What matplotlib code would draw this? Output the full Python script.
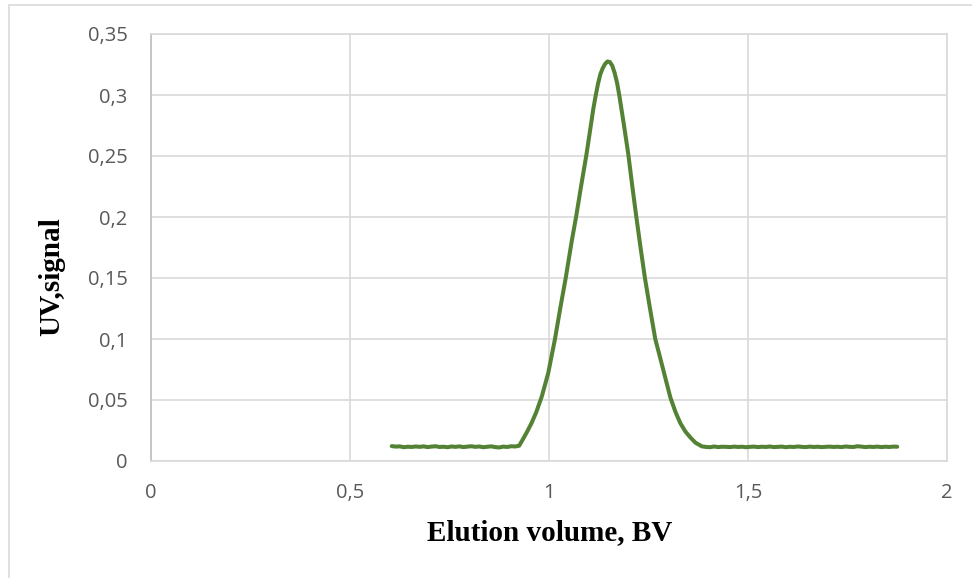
import matplotlib
matplotlib.use("Agg")
import matplotlib.pyplot as plt
from matplotlib.patches import Rectangle
from matplotlib.ticker import FuncFormatter

# ---- data ----
base_left_x = [0.605, 0.615, 0.625, 0.635, 0.645, 0.655, 0.665, 0.675, 0.685, 0.695,
               0.705, 0.715, 0.725, 0.735, 0.745, 0.755, 0.765, 0.775, 0.785, 0.795,
               0.805, 0.815, 0.825, 0.835, 0.845, 0.855, 0.865, 0.875, 0.885, 0.895,
               0.905, 0.915, 0.925]
base_left_y = [0.0122, 0.0118, 0.0120, 0.0113, 0.0117, 0.0115, 0.0119, 0.0116, 0.0120, 0.0114,
               0.0118, 0.0121, 0.0115, 0.0117, 0.0113, 0.0119, 0.0116, 0.0120, 0.0114, 0.0118,
               0.0121, 0.0116, 0.0119, 0.0113, 0.0117, 0.0120, 0.0114, 0.0111, 0.0118, 0.0115,
               0.0121, 0.0119, 0.0125]

peak_x = [0.933, 0.945, 0.956, 0.968, 0.982, 0.998, 1.015, 1.029, 1.042, 1.057,
          1.068, 1.081, 1.094, 1.106, 1.111, 1.117, 1.123, 1.129, 1.135, 1.141,
          1.147, 1.153, 1.159, 1.165, 1.171, 1.177, 1.188, 1.199, 1.209, 1.219,
          1.230, 1.241, 1.253, 1.267, 1.279, 1.290, 1.305, 1.318, 1.330, 1.343,
          1.356, 1.368, 1.384]
peak_y = [0.017, 0.024, 0.031, 0.040, 0.053, 0.072, 0.100, 0.1265, 0.150, 0.180,
          0.200, 0.226, 0.251, 0.277, 0.288, 0.299, 0.309, 0.317, 0.322, 0.3255,
          0.3275, 0.327, 0.324, 0.318, 0.310, 0.299, 0.276, 0.252, 0.226, 0.201,
          0.175, 0.150, 0.1265, 0.100, 0.085, 0.071, 0.052, 0.040, 0.031, 0.024,
          0.019, 0.015, 0.012]

base_right_x = [1.395, 1.405, 1.415, 1.425, 1.435, 1.445, 1.455, 1.465, 1.475, 1.485,
                1.495, 1.505, 1.515, 1.525, 1.535, 1.545, 1.555, 1.565, 1.575, 1.585,
                1.595, 1.605, 1.615, 1.625, 1.635, 1.645, 1.655, 1.665, 1.675, 1.685,
                1.695, 1.705, 1.715, 1.725, 1.735, 1.745, 1.755, 1.765, 1.775, 1.785,
                1.795, 1.805, 1.815, 1.825, 1.835, 1.845, 1.855, 1.865, 1.875]
base_right_y = [0.0115, 0.0113, 0.0119, 0.0114, 0.0117, 0.0116, 0.0114, 0.0118, 0.0115, 0.0117,
                0.0113, 0.0116, 0.0118, 0.0114, 0.0117, 0.0115, 0.0119, 0.0114, 0.0116, 0.0118,
                0.0113, 0.0117, 0.0115, 0.0119, 0.0116, 0.0114, 0.0118, 0.0115, 0.0117, 0.0114,
                0.0116, 0.0118, 0.0115, 0.0117, 0.0114, 0.0119, 0.0116, 0.0115, 0.0121, 0.0118,
                0.0114, 0.0117, 0.0115, 0.0118, 0.0114, 0.0117, 0.0115, 0.0118, 0.0117]

x_vals = base_left_x + peak_x + base_right_x
y_vals = base_left_y + peak_y + base_right_y

x_ticks = [0, 0.5, 1, 1.5, 2]
y_ticks = [0, 0.05, 0.1, 0.15, 0.2, 0.25, 0.3, 0.35]

x_label = "Elution volume, BV"
y_label = "UV,signal"

# ---- figure ----
W, H = 972, 578
fig = plt.figure(figsize=(W / 100, H / 100), dpi=100)
fig.patches.append(Rectangle((8.5 / W, -0.1), 2.0, (H - 5.5) / H + 0.1,
                             transform=fig.transFigure, fill=False,
                             edgecolor="#d9d9d9", linewidth=1.2))

ax = fig.add_axes([151 / W, (H - 461) / H, (947 - 151) / W, (461 - 34) / H])

grid_c = "#d9d9d9"
ax.plot(x_vals, y_vals, color="#548235", linewidth=2.9, solid_capstyle="round",
        solid_joinstyle="round", zorder=3)

ax.set_xlim(0, 2)
ax.set_ylim(0, 0.35)
ax.set_xticks(x_ticks)
ax.set_yticks(y_ticks)

def fmt(v, pos=None):
    s = ("%g" % v)
    return s.replace(".", ",")

ax.xaxis.set_major_formatter(FuncFormatter(fmt))
ax.yaxis.set_major_formatter(FuncFormatter(fmt))

ax.grid(True, color=grid_c, linewidth=1.2)
ax.set_axisbelow(True)
for side in ["top", "right", "bottom"]:
    ax.spines[side].set_color(grid_c)
    ax.spines[side].set_linewidth(1.2)
ax.spines["left"].set_color("#bfbfbf")
ax.spines["left"].set_linewidth(1.2)

ax.tick_params(axis="both", length=0, labelsize=14.5, labelcolor="#595959")
ax.tick_params(axis="y", pad=17)
ax.tick_params(axis="x", pad=16)
for lab in ax.get_xticklabels() + ax.get_yticklabels():
    lab.set_fontfamily("Open Sans")

ax.set_xlabel(x_label, fontfamily="Liberation Serif", fontweight="bold",
              fontsize=21, color="black")
ax.set_ylabel(y_label, fontfamily="Liberation Serif", fontweight="bold",
              fontsize=21, color="black")
ax.xaxis.set_label_coords((550 - 151) / (947 - 151), -(533 - 461) / (461 - 34))
ax.yaxis.set_label_coords(-(151 - 52) / (947 - 151), (461 - 277) / (461 - 34))
ax.xaxis.label.set_va("center")
ax.yaxis.label.set_va("center")

fig.savefig("out.png", dpi=100, facecolor="white")
